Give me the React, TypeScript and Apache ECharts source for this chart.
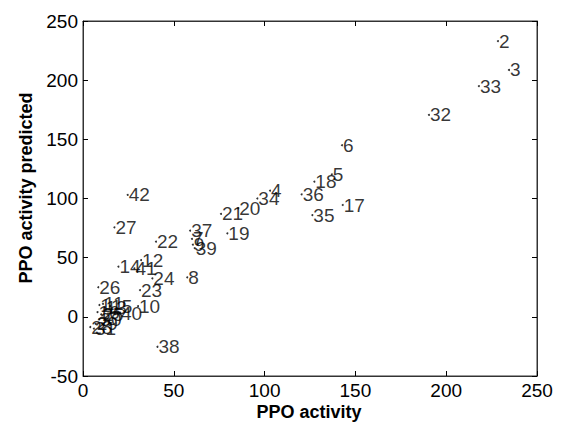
import React, { useEffect, useRef } from "react";
import * as echarts from "echarts";

const ids = [
  "1", "2", "3", "4", "5", "6", "7", "8", "9", "10",
  "11", "12", "13", "14", "15", "16", "17", "18", "19", "20",
  "21", "22", "23", "24", "25", "26", "27", "28", "29", "30",
  "31", "32", "33", "34", "35", "36", "37", "38", "39", "40",
  "41", "42",
];
const actual = [
  9, 228.5, 234.6, 103, 137, 142.6, 60, 57.4, 60.5, 30.3,
  11, 32, 12, 19.5, 14.9, 8, 143, 127.4, 79.5, 85.5,
  76, 40.2, 31.4, 38.2, 10, 8.4, 17.3, 4, 7, 9,
  6, 190.5, 218, 96, 126.3, 120.4, 59, 41, 61.5, 20.4,
  28.3, 24.6,
];
const predicted = [
  10, 233, 208.6, 106.6, 120.4, 145, 65.8, 33.4, 61, 9,
  11, 48, 8, 42.4, 9, 4, 94.5, 114.2, 70.6, 91.7,
  87, 63.5, 22.6, 32.5, 2, 25, 75.6, -8.6, -6, -2,
  -10, 170.6, 195, 100, 86, 103.5, 72.8, -25.3, 58, 3,
  41, 103,
];
const xTicks = [0, 50, 100, 150, 200, 250];
const yTicks = [-50, 0, 50, 100, 150, 200, 250];

export default function App() {
  const ref = useRef<HTMLDivElement>(null);
  useEffect(() => {
    if (!ref.current) return;
    const chart = echarts.init(ref.current, null, { renderer: "svg" });
    const data = ids.map((id, i) => ({ name: id, value: [actual[i], predicted[i]] }));
    const font = "Liberation Sans, Arial, sans-serif";
    const tickStyle = { show: true, inside: true, length: 5, lineStyle: { color: "#000", width: 1 } };
    const lineStyle = { show: true, onZero: false, lineStyle: { color: "#333", width: 1 } };
    chart.setOption({
      animation: false,
      backgroundColor: "#fff",
      grid: {
        left: 83, right: 24, top: 21, bottom: 47,
        show: true, borderColor: "#333", borderWidth: 1,
      },
      xAxis: [
        {
          type: "value", min: xTicks[0], max: xTicks[xTicks.length - 1], interval: 50,
          axisLine: lineStyle,
          axisTick: tickStyle,
          splitLine: { show: false },
          axisLabel: { color: "#000", fontSize: 19, fontFamily: font, margin: 5 },
        },
        {
          type: "value", position: "top", min: 0, max: 250, interval: 50,
          axisLine: lineStyle,
          axisTick: tickStyle, axisLabel: { show: false }, splitLine: { show: false },
        },
      ],
      yAxis: [
        {
          type: "value", min: yTicks[0], max: yTicks[yTicks.length - 1], interval: 50,
          axisLine: lineStyle,
          axisTick: tickStyle,
          splitLine: { show: false },
          axisLabel: { color: "#000", fontSize: 19, fontFamily: font, margin: 5 },
        },
        {
          type: "value", position: "right", min: -50, max: 250, interval: 50,
          axisLine: lineStyle,
          axisTick: tickStyle, axisLabel: { show: false }, splitLine: { show: false },
        },
      ],
      graphic: [
        {
          type: "text", x: 309, y: 412,
          style: {
            text: "PPO activity", fill: "#000", font: `bold 18px ${font}`,
            textAlign: "center", textVerticalAlign: "middle",
          },
        },
        {
          type: "text", x: 26, y: 188, rotation: Math.PI / 2,
          style: {
            text: "PPO activity predicted", fill: "#000", font: `bold 18px ${font}`,
            textAlign: "center", textVerticalAlign: "middle",
          },
        },
      ],
      series: [
        {
          type: "scatter",
          xAxisIndex: 0,
          yAxisIndex: 0,
          symbol: "circle",
          symbolSize: 2,
          itemStyle: { color: "#000" },
          data,
          label: {
            show: true,
            position: "right",
            distance: 0,
            formatter: "{b}",
            color: "#000",
            fontSize: 19,
            fontFamily: font,
          },
          labelLayout: { hideOverlap: false },
          emphasis: { disabled: true },
        },
      ],
    });
    return () => chart.dispose();
  }, []);
  return <div ref={ref} style={{ width: 561, height: 423, position: "absolute", left: 0, top: 0 }} />;
}
